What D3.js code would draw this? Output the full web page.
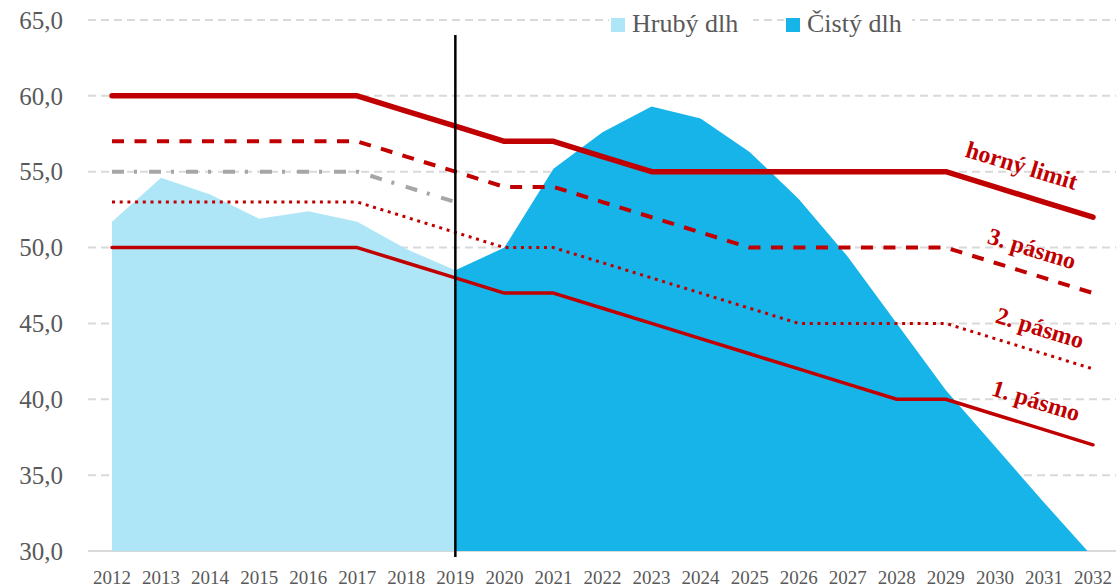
<!DOCTYPE html>
<html>
<head>
<meta charset="utf-8">
<script src="https://cdn.jsdelivr.net/npm/d3@7"></script>
<style>
  body { margin: 0; background: #fff; }
  text { font-family: "Liberation Serif", "DejaVu Serif", serif; }
</style>
</head>
<body>
<svg id="chart" width="1116" height="588"></svg>
<script>

var years = [2012, 2013, 2014, 2015, 2016, 2017, 2018, 2019, 2020, 2021, 2022,
             2023, 2024, 2025, 2026, 2027, 2028, 2029, 2030, 2031, 2032];

// hruby dlh 2012-2019, cisty dlh 2019-2032
var hrubyYears = [2012, 2013, 2014, 2015, 2016, 2017, 2018, 2019];
var hrubyDlh   = [51.7, 54.6, 53.5, 51.9, 52.4, 51.7, 49.9, 48.5];
var cistyYears = [2019, 2020, 2021, 2022, 2023, 2024, 2025, 2026, 2027, 2028, 2029, 2030, 2031, 2032];
var cistyDlh   = [48.5, 50.0, 55.2, 57.6, 59.3, 58.5, 56.3, 53.2, 49.4, 45.0, 40.6, 36.9, 33.2, 29.6];

var hornyLimit = [60, 60, 60, 60, 60, 60, 59, 58, 57, 57, 56, 55, 55, 55, 55, 55, 55, 55, 54, 53, 52];
var pasmo3     = [57, 57, 57, 57, 57, 57, 56, 55, 54, 54, 53, 52, 51, 50, 50, 50, 50, 50, 49, 48, 47];
var pasmo2     = [53, 53, 53, 53, 53, 53, 52, 51, 50, 50, 49, 48, 47, 46, 45, 45, 45, 45, 44, 43, 42];
var pasmo1     = [50, 50, 50, 50, 50, 50, 49, 48, 47, 47, 46, 45, 44, 43, 42, 41, 40, 40, 39, 38, 37];

var starYears = [2012, 2013, 2014, 2015, 2016, 2017, 2018, 2019];
var starLimit = [55, 55, 55, 55, 55, 55, 54, 53];

var yTicks = [30, 35, 40, 45, 50, 55, 60, 65];
var legendNames = ["Hrubý dlh", "Čistý dlh"];
var lineNames = ["horný limit", "3. pásmo", "2. pásmo", "1. pásmo"];
var splitYear = 2019;

var red = "#c00000",
    lightBlue = "#aee6f8",
    darkBlue = "#16b4e8",
    gridColor = "#d9d9d9",
    textColor = "#595959";

var svg = d3.select("#chart");

var x = d3.scaleLinear().domain([2012, 2032]).range([112, 1093]);
var y = d3.scaleLinear().domain([30, 65]).range([551, 20]);

var fmt = function(d) { return d3.format(".1f")(d).replace(".", ","); };

svg.append("defs").append("clipPath")
    .attr("id", "plot")
  .append("rect")
    .attr("x", 0).attr("y", 0)
    .attr("width", 1116).attr("height", y(30));

// gridlines
svg.append("g").selectAll("line")
    .data(yTicks)
  .enter().append("line")
    .attr("x1", 88)
    .attr("x2", 1116)
    .attr("y1", function(d) { return y(d); })
    .attr("y2", function(d) { return y(d); })
    .style("stroke", gridColor)
    .style("stroke-width", 2)
    .style("stroke-dasharray", function(d) { return d === 30 ? null : "8,5"; });

// y labels
svg.append("g").selectAll("text")
    .data(yTicks)
  .enter().append("text")
    .attr("x", 63)
    .attr("y", function(d) { return y(d); })
    .attr("dy", "0.35em")
    .style("text-anchor", "end")
    .style("font-size", "25px")
    .style("fill", textColor)
    .text(fmt);

// x labels
svg.append("g").selectAll("text")
    .data(years)
  .enter().append("text")
    .attr("x", function(d) { return x(d); })
    .attr("y", 584)
    .style("text-anchor", "middle")
    .style("font-size", "19px")
    .style("fill", textColor)
    .text(function(d) { return d; });

// areas
var area = d3.area()
    .x(function(d) { return x(d[0]); })
    .y0(y(30))
    .y1(function(d) { return y(d[1]); });

var areas = svg.append("g").attr("clip-path", "url(#plot)");

areas.append("path")
    .datum(d3.zip(hrubyYears, hrubyDlh))
    .attr("d", area)
    .style("fill", lightBlue);

areas.append("path")
    .datum(d3.zip(cistyYears, cistyDlh))
    .attr("d", area)
    .style("fill", darkBlue);

// limit lines
var line = d3.line()
    .x(function(d) { return x(d[0]); })
    .y(function(d) { return y(d[1]); });

var series = [
  { yrs: starYears, vals: starLimit, color: "#a6a6a6", width: 4, dash: "12,10,3,12", cap: "butt" },
  { yrs: years, vals: pasmo1, color: red, width: 3.5, dash: null, cap: "round" },
  { yrs: years, vals: pasmo2, color: red, width: 3, dash: "3,4.7", cap: "butt" },
  { yrs: years, vals: pasmo3, color: red, width: 4, dash: "12,10.5", cap: "butt" },
  { yrs: years, vals: hornyLimit, color: red, width: 5.5, dash: null, cap: "round" }
];

svg.append("g").selectAll("path")
    .data(series)
  .enter().append("path")
    .attr("d", function(s) { return line(d3.zip(s.yrs, s.vals)); })
    .style("fill", "none")
    .style("stroke", function(s) { return s.color; })
    .style("stroke-width", function(s) { return s.width; })
    .style("stroke-dasharray", function(s) { return s.dash; })
    .style("stroke-linecap", function(s) { return s.cap; })
    .style("stroke-linejoin", "round");

// line labels
function valueAt(vals, yr) {
  var i = Math.floor(yr - 2012), t = yr - 2012 - i;
  return vals[i] + (vals[i + 1] - vals[i]) * t;
}

var labelPos = [
  { vals: hornyLimit, yr: 2030.55, off: -30 },
  { vals: pasmo3, yr: 2030.76, off: -26 },
  { vals: pasmo2, yr: 2030.92, off: -25 },
  { vals: pasmo1, yr: 2030.84, off: -27 }
];

svg.append("g").selectAll("text")
    .data(lineNames)
  .enter().append("text")
    .attr("transform", function(d, i) {
      var p = labelPos[i];
      return "translate(" + x(p.yr) + "," + (y(valueAt(p.vals, p.yr)) + p.off) + ") rotate(17)";
    })
    .attr("dy", "0.35em")
    .style("text-anchor", "middle")
    .style("font-size", "24px")
    .style("font-weight", "bold")
    .style("fill", red)
    .text(function(d) { return d; });

// vertical divider
svg.append("line")
    .attr("x1", x(splitYear)).attr("x2", x(splitYear))
    .attr("y1", 35).attr("y2", 557)
    .style("stroke", "#000")
    .style("stroke-width", 2.5);

// legend
var legendX = [611, 786];
var legend = svg.append("g").selectAll("g")
    .data(legendNames)
  .enter().append("g")
    .attr("transform", function(d, i) { return "translate(" + legendX[i] + ",0)"; });

legend.append("rect")
    .attr("x", -2).attr("y", 8)
    .attr("width", function(d, i) { return i ? 128 : 144; })
    .attr("height", 28)
    .style("fill", "#fff");

legend.append("rect")
    .attr("x", 0).attr("y", 18)
    .attr("width", 14).attr("height", 14)
    .style("fill", function(d, i) { return i ? darkBlue : lightBlue; });

legend.append("text")
    .attr("x", 21)
    .attr("y", 32)
    .style("font-size", "26px")
    .style("fill", textColor)
    .text(function(d) { return d; });

</script>
</body>
</html>
